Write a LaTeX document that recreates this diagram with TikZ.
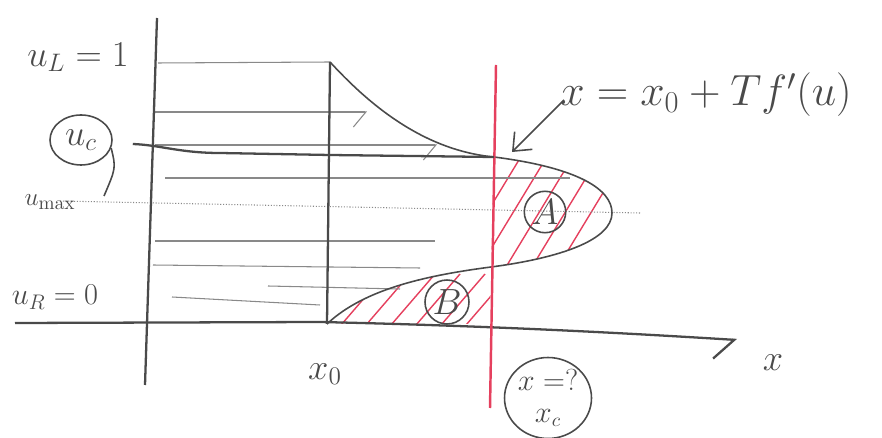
\documentclass[tikz,border=0pt]{standalone}
\usepackage{amsmath}
\usepackage{tikz}
\usetikzlibrary{calc,positioning,shapes.geometric,arrows.meta}
\definecolor{pencil}{HTML}{4A4A4A}
\definecolor{redpen}{HTML}{E5405E}
\tikzset{
  axis/.style={draw=pencil, line width=1.3pt},
  ray/.style={draw=pencil!65, line width=0.6pt},
  curve/.style={draw=pencil, line width=0.9pt},
  shock/.style={draw=redpen, line width=1.4pt},
  hatch/.style={draw=redpen, line width=0.8pt},
  hand/.style={text=pencil, font=\fontsize{20}{24}\selectfont},
  ring/.style={draw=pencil, circle, line width=0.9pt, inner sep=1pt},
  rayhook/.style={-{Straight Barb[right,length=2.5mm,width=6mm]}},
  axishook/.style={-{Straight Barb[right,length=4mm,width=8mm]}},
  barb/.style={-{Straight Barb[length=3mm,width=5mm]}},
}
\begin{document}
\begin{tikzpicture}[x=0.02cm,y=-0.02cm]
  \useasboundingbox (0,0) rectangle (882,438);
  \coordinate (top) at (157,18);
  \coordinate (bot) at (145,385);
  \coordinate (xl) at (15,323);
  \coordinate (xr) at (737,340);
  \coordinate (x0t) at (330,62);
  \coordinate (x0b) at (327,324);
  \coordinate (uct) at (494,157);
  \coordinate (ucb) at (491,267);
  \coordinate (tip) at (612,213);
  \coordinate (sht) at (496,65);
  \coordinate (shb) at (490,408);
  % hatching of the two areas
  \begin{scope}
    \clip (uct) .. controls (580,168) and (612,190) .. (tip)
      .. controls (612,240) and (560,258) .. (ucb) -- cycle;
    \foreach \i in {0,...,8}
      \draw[hatch] ($(440,290)+(\i*26,0)$) -- ++(85,-140);
  \end{scope}
  \begin{scope}
    \clip (ucb) .. controls (430,275) and (365,288) .. (x0b) -- (490,324) -- cycle;
    \foreach \i in {0,...,6}
      \draw[hatch] ($(335,332)+(\i*25,0)$) -- ++(50,-58);
  \end{scope}
  % characteristics
  \draw[ray] (158,63) -- (x0t);
  \draw[ray,rayhook] (155,112) -- (367,112);
  \draw[ray,rayhook] (155,145) -- (437,145);
  \draw[ray] (165,178) -- (570,178);
  \draw[ray, densely dotted] (60,201) -- (640,213);
  \draw[ray] (155,241) -- (435,241);
  \draw[ray] (153,265) -- (420,268);
  \draw[ray] (268,286) -- (400,289);
  \draw[ray] (172,297) -- (320,305);
  % axes
  \draw[axis] (top) -- (bot);
  \draw[axis,axishook] (xl) -- (320,322) .. controls (500,326) and (640,334) .. (xr);
  \draw[axis] (x0t) -- (x0b);
  % solution curve
  \draw[curve] (x0t) .. controls (365,100) and (420,150) .. (uct);
  \draw[curve] (uct) .. controls (580,168) and (612,190) .. (tip)
    .. controls (612,240) and (560,258) .. (ucb);
  \draw[curve] (ucb) .. controls (430,275) and (365,288) .. (x0b);
  % shock position
  \draw[shock] (sht) -- (shb);
  % labels
  \node[hand] (uL) at (78,57) {$u_L=1$};
  \node[hand, draw=pencil, ellipse, line width=0.9pt, minimum width=1.24cm,
    minimum height=1.0cm, inner sep=0pt] (uc) at (81,140) {$u_c$};
  \draw[curve] (uc.-15) .. controls (116,168) .. (104,196);
  \draw[curve, line width=1.3pt] (uc.east) ++(20,4) coordinate (ucl)
    .. controls (160,145) and (180,153) .. (220,153) -- (330,155) -- (uct);
  \node[hand, font=\fontsize{15}{18}\selectfont] (umax) at (50,202) {$u_{\mathrm{max}}$};
  \node[hand, font=\fontsize{18}{22}\selectfont] (uR) at (55,297) {$u_R=0$};
  \node[hand, font=\fontsize{24}{28}\selectfont] (fml) at (706,95) {$x = x_0 + T f'(u)$};
  \coordinate (fstart) at (564,100);
  \coordinate (fend) at (512,152);
  \draw[curve,barb] (fstart) -- (fend);
  \node[hand, ring, minimum size=0.8cm] (A) at (545,212) {$A$};
  \node[hand, ring, minimum size=0.88cm] (B) at (447,302) {$B$};
  \node[hand] (x0) at (325,374) {$x_0$};
  \node[hand] (x) at (773,363) {$x$};
  \node[hand, draw=pencil, ellipse, line width=0.9pt, minimum width=1.74cm,
    minimum height=1.5cm, inner sep=0pt, align=center,
    font=\fontsize{16}{18}\selectfont] (xq) at (548,398) {$x=?$\\$x_c$};
\end{tikzpicture}
\end{document}
